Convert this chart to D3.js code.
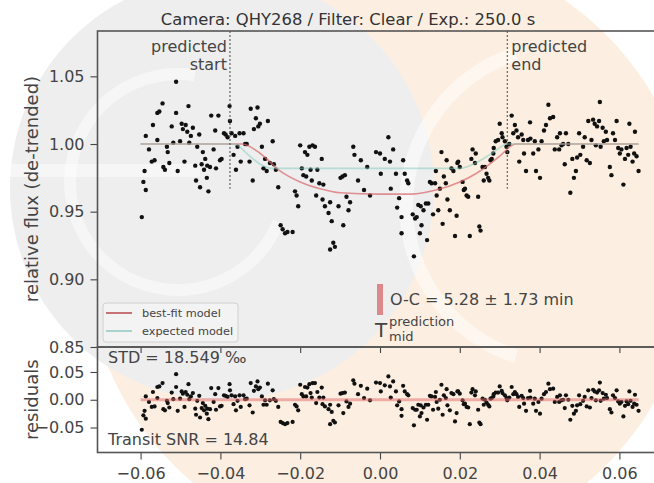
<!DOCTYPE html>
<html>
<head>
<meta charset="utf-8">
<script src="https://cdn.jsdelivr.net/npm/d3@7"></script>
<style>
  body { margin: 0; background: #fff; }
  svg { display: block; font-family: "DejaVu Sans", sans-serif; }
</style>
</head>
<body>
<script>
// observation times (days from predicted mid-transit)
const time = [
  -0.0597,-0.0593,-0.0590,-0.0587,-0.0587,-0.0579,-0.0572,-0.0569,-0.0565,-0.0558,
  -0.0558,-0.0553,-0.0545,-0.0543,-0.0539,-0.0534,-0.0532,-0.0528,-0.0522,-0.0518,
  -0.0511,-0.0511,-0.0507,-0.0501,-0.0497,-0.0494,-0.0490,-0.0487,-0.0483,-0.0480,
  -0.0478,-0.0474,-0.0469,-0.0463,-0.0461,-0.0458,-0.0453,-0.0451,-0.0447,-0.0444,
  -0.0441,-0.0438,-0.0434,-0.0433,-0.0430,-0.0426,-0.0423,-0.0417,-0.0413,-0.0411,
  -0.0405,-0.0401,-0.0397,-0.0391,-0.0387,-0.0382,-0.0377,-0.0376,-0.0372,-0.0367,
  -0.0363,-0.0361,-0.0357,-0.0352,-0.0349,-0.0342,-0.0338,-0.0334,-0.0327,-0.0324,
  -0.0319,-0.0316,-0.0311,-0.0307,-0.0305,-0.0301,-0.0296,-0.0292,-0.0288,-0.0284,
  -0.0281,-0.0276,-0.0269,-0.0266,-0.0261,-0.0255,-0.0249,-0.0244,-0.0238,-0.0232,
  -0.0219,-0.0213,-0.0209,-0.0205,-0.0200,-0.0196,-0.0192,-0.0188,-0.0185,-0.0182,
  -0.0177,-0.0174,-0.0171,-0.0169,-0.0163,-0.0160,-0.0157,-0.0152,-0.0146,-0.0144,
  -0.0142,-0.0138,-0.0129,-0.0125,-0.0125,-0.0121,-0.0117,-0.0113,-0.0104,-0.0099,
  -0.0094,-0.0092,-0.0088,-0.0084,-0.0079,-0.0075,-0.0067,-0.0064,-0.0055,-0.0048,
  -0.0040,-0.0032,-0.0025,-0.0010,0.0000,0.0002,0.0012,0.0021,0.0025,0.0027,
  0.0033,0.0040,0.0043,0.0048,0.0054,0.0054,0.0058,0.0062,0.0068,0.0071,
  0.0082,0.0085,0.0088,0.0092,0.0096,0.0100,0.0102,0.0104,0.0109,0.0115,
  0.0118,0.0121,0.0125,0.0129,0.0133,0.0138,0.0140,0.0142,0.0146,0.0150,
  0.0154,0.0157,0.0160,0.0165,0.0167,0.0169,0.0175,0.0179,0.0184,0.0188,
  0.0192,0.0194,0.0196,0.0200,0.0207,0.0210,0.0213,0.0217,0.0221,0.0225,
  0.0229,0.0232,0.0238,0.0240,0.0246,0.0249,0.0252,0.0257,0.0260,0.0263,
  0.0267,0.0271,0.0274,0.0277,0.0280,0.0284,0.0285,0.0290,0.0296,0.0300,
  0.0305,0.0307,0.0313,0.0317,0.0319,0.0324,0.0330,0.0334,0.0338,0.0342,
  0.0346,0.0349,0.0355,0.0359,0.0361,0.0366,0.0371,0.0376,0.0377,0.0384,
  0.0388,0.0391,0.0397,0.0401,0.0405,0.0411,0.0416,0.0422,0.0426,0.0434,
  0.0438,0.0444,0.0449,0.0451,0.0455,0.0459,0.0463,0.0466,0.0472,0.0477,
  0.0482,0.0486,0.0491,0.0494,0.0499,0.0502,0.0509,0.0513,0.0518,0.0522,
  0.0526,0.0530,0.0534,0.0538,0.0541,0.0544,0.0549,0.0551,0.0553,0.0558,
  0.0561,0.0566,0.0569,0.0576,0.0580,0.0584,0.0589,0.0593,0.0597,0.0601,
  0.0605,0.0610,0.0614,0.0618,0.0622,0.0625,0.0628,0.0633,0.0637,0.0639,
  0.0643,0.0648
];

// relative flux (de-trended)
const flux = [
  0.946,0.972,0.980,0.966,1.006,0.996,0.987,1.014,0.988,1.003,
  1.023,1.024,1.030,0.983,0.981,0.998,0.994,0.986,1.013,1.001,
  1.023,1.046,0.980,1.002,1.015,1.011,0.987,1.014,1.009,1.028,
  1.001,1.006,1.012,0.984,0.973,0.998,1.007,0.968,0.985,0.994,
  0.981,0.989,0.975,0.984,0.965,0.983,1.021,0.996,1.010,0.982,
  1.021,0.988,0.989,1.008,1.007,1.005,1.028,1.017,1.008,0.992,
  1.006,0.981,0.998,1.008,0.987,1.008,1.000,1.000,0.987,1.026,
  0.973,1.011,1.019,1.027,1.013,1.015,0.998,0.982,0.989,0.980,
  1.017,0.986,1.002,0.985,0.981,0.968,0.940,0.937,0.934,0.935,
  0.935,0.965,0.962,0.954,0.999,0.982,0.977,0.994,0.976,0.992,
  0.998,0.981,0.973,0.999,0.998,0.962,0.981,0.971,0.989,0.959,
  0.970,0.954,0.949,0.957,0.922,0.943,0.927,0.924,0.954,0.975,
  0.976,0.940,0.977,0.961,0.951,0.957,0.998,0.992,0.973,0.988,
  0.966,0.983,0.962,0.994,0.993,0.978,0.989,1.005,0.987,0.967,
  0.996,0.978,0.953,0.960,0.946,0.934,0.988,0.978,0.973,0.971,
  0.948,0.917,0.945,0.946,0.955,0.934,0.954,0.940,0.951,0.956,
  0.929,0.956,0.972,0.971,0.948,0.971,0.980,0.962,0.951,0.967,
  0.994,0.941,0.976,0.971,0.988,0.959,0.951,0.982,0.980,0.932,
  0.947,0.986,0.987,0.983,0.972,0.966,0.967,0.962,0.961,0.932,
  0.989,0.996,0.986,0.993,0.961,0.939,0.936,0.983,0.973,0.983,
  0.978,0.975,0.973,0.988,0.989,0.993,0.997,1.002,1.003,1.015,
  1.008,1.005,1.002,0.998,0.994,1.000,1.021,1.008,1.014,1.010,
  1.005,0.987,1.007,1.003,0.993,0.980,1.003,1.016,1.004,0.993,
  1.002,0.980,0.996,0.975,1.002,1.010,1.014,1.029,1.019,1.020,
  0.996,1.005,0.996,1.008,0.999,1.000,0.985,1.008,1.000,0.964,
  0.989,0.975,0.980,0.990,1.008,0.992,0.998,1.005,0.988,1.017,
  0.986,1.003,1.018,1.015,0.999,1.013,1.017,1.031,0.998,1.012,
  1.002,1.009,1.003,0.983,0.977,1.008,1.003,1.017,0.997,0.993,
  0.996,0.970,0.989,0.997,0.992,1.015,0.998,0.987,0.993,1.009,
  0.991,0.980
];

// residuals (observed - best-fit model)
const resid = [
  -0.054,-0.028,-0.020,-0.034,0.006,-0.004,-0.013,0.014,-0.012,0.003,
  0.023,0.024,0.030,-0.017,-0.019,-0.002,-0.006,-0.014,0.013,0.001,
  0.023,0.046,-0.020,0.002,0.015,0.011,-0.013,0.014,0.009,0.028,
  0.001,0.006,0.012,-0.016,-0.027,-0.002,0.007,-0.032,-0.015,-0.006,
  -0.019,-0.011,-0.025,-0.016,-0.035,-0.017,0.021,-0.004,0.010,-0.018,
  0.021,-0.012,-0.011,0.008,0.007,0.005,0.028,0.017,0.008,-0.008,
  0.006,-0.019,-0.002,0.008,-0.013,0.008,0.001,0.002,-0.010,0.030,
  -0.023,0.016,0.024,0.033,0.019,0.022,0.006,-0.009,-0.001,-0.009,
  0.029,-0.001,0.017,0.001,-0.002,-0.013,-0.040,-0.042,-0.044,-0.042,
  -0.040,-0.009,-0.012,-0.019,0.027,0.010,0.006,0.023,0.006,0.022,
  0.028,0.012,0.004,0.030,0.030,-0.006,0.014,0.004,0.022,-0.008,
  0.004,-0.012,-0.017,-0.009,-0.044,-0.022,-0.038,-0.041,-0.010,0.011,
  0.012,-0.024,0.013,-0.003,-0.013,-0.007,0.035,0.029,0.010,0.025,
  0.003,0.020,-0.001,0.031,0.030,0.015,0.026,0.042,0.024,0.004,
  0.033,0.015,-0.010,-0.003,-0.017,-0.029,0.025,0.015,0.010,0.008,
  -0.015,-0.046,-0.018,-0.018,-0.009,-0.030,-0.010,-0.024,-0.014,-0.009,
  -0.036,-0.009,0.007,0.006,-0.018,0.005,0.014,-0.004,-0.016,0.000,
  0.027,-0.027,0.008,0.003,0.019,-0.010,-0.019,0.012,0.010,-0.039,
  -0.024,0.015,0.015,0.011,-0.001,-0.008,-0.007,-0.013,-0.014,-0.044,
  0.013,0.019,0.008,0.015,-0.018,-0.041,-0.044,0.002,-0.009,0.000,
  -0.005,-0.009,-0.012,0.002,0.003,0.006,0.010,0.013,0.013,0.024,
  0.016,0.012,0.008,0.003,-0.001,0.004,0.023,0.010,0.014,0.010,
  0.005,-0.013,0.007,0.003,-0.007,-0.020,0.003,0.016,0.004,-0.007,
  0.002,-0.020,-0.004,-0.025,0.002,0.010,0.014,0.029,0.019,0.020,
  -0.004,0.005,-0.004,0.008,-0.001,0.000,-0.015,0.008,0.000,-0.036,
  -0.011,-0.025,-0.020,-0.010,0.008,-0.008,-0.002,0.005,-0.012,0.017,
  -0.014,0.003,0.018,0.015,-0.001,0.013,0.017,0.031,-0.002,0.012,
  0.002,0.009,0.003,-0.017,-0.023,0.008,0.003,0.017,-0.003,-0.007,
  -0.004,-0.030,-0.011,-0.003,-0.008,0.015,-0.002,-0.013,-0.007,0.009,
  -0.009,-0.020
];

// best-fit model curve
const fitTime = [-0.0600,-0.0345,-0.0300,-0.0250,-0.0200,-0.0150,-0.0100,0.0000,0.0080,0.0140,0.0200,0.0240,0.0270,0.0300,0.0340,0.0648];
const fitFlux = [1.000,1.000,0.993,0.980,0.972,0.967,0.964,0.963,0.963,0.966,0.972,0.978,0.984,0.991,1.000,1.000];

// expected model curve
const expTime = [-0.0600,-0.0365,-0.0330,-0.0300,-0.0270,0.0200,0.0240,0.0280,0.0320,0.0648];
const expFlux = [1.000,1.000,0.992,0.985,0.982,0.982,0.986,0.993,1.000,1.000];

// residual zero line
const zeroTime = [-0.0600, 0.0648];
const zeroVal = [0, 0];

// predicted ingress / egress
const predTimes = [-0.0376, 0.0319];
const predLabels = [["predicted", "start"], ["predicted", "end"]];
const predMid = 0.0;

const xTicks = [-0.06, -0.04, -0.02, 0.00, 0.02, 0.04, 0.06];
const yMainTicks = [0.85, 0.90, 0.95, 1.00, 1.05];
const yResTicks = [-0.05, 0.00, 0.05];

const legendLabels = ["best-fit model", "expected model"];
const titleText = "Camera: QHY268 / Filter: Clear / Exp.: 250.0 s";

const width = 654, height = 483;
const pLeft = 97.5, pRight = 662.5, pTop = 31, pSplit = 347, pBottom = 452.5;

const fitColor = "#d9666b", expColor = "#7ccabb";

const svg = d3.select("body").append("svg")
    .attr("width", width)
    .attr("height", height);

// faint logo watermark behind the figure
const wm = svg.append("g");
wm.append("circle").attr("cx", 390).attr("cy", 250).attr("r", 305).attr("fill", "#fcefe1");
wm.append("circle").attr("cx", 222).attr("cy", 188).attr("r", 212).attr("fill", "#eeeeee");
const arc = d3.arc();
wm.append("path")
    .attr("transform", "translate(178,182)")
    .attr("d", arc({innerRadius: 102, outerRadius: 114, startAngle: Math.PI * 0.62, endAngle: Math.PI * 2.05}))
    .attr("fill", "#fff").attr("opacity", 0.45);
wm.append("rect").attr("x", 0).attr("y", 164).attr("width", 200).attr("height", 13)
    .attr("fill", "#fff").attr("opacity", 0.45);
wm.append("path")
    .attr("transform", "translate(565,205)")
    .attr("d", arc({innerRadius: 152, outerRadius: 166, startAngle: Math.PI * 1.1, endAngle: Math.PI * 1.9}))
    .attr("fill", "#fff").attr("opacity", 0.5);

// scales
const x = d3.scaleLinear().domain([-0.0708, 0.0708]).range([pLeft, pRight]);
const yMain = d3.scaleLinear().domain([0.85, 1.0835]).range([pSplit, pTop]);
const yRes = d3.scaleLinear().domain([-0.095, 0.095]).range([pBottom, pSplit]);

const idx = d3.range(time.length);

svg.append("clipPath").attr("id", "clipMain")
  .append("rect").attr("x", pLeft).attr("y", pTop).attr("width", pRight - pLeft).attr("height", pSplit - pTop);
svg.append("clipPath").attr("id", "clipRes")
  .append("rect").attr("x", pLeft).attr("y", pSplit).attr("width", pRight - pLeft).attr("height", pBottom - pSplit);

// ---- main panel ----
const main = svg.append("g").attr("clip-path", "url(#clipMain)");

main.selectAll(".obs")
  .data(idx)
  .enter().append("circle")
    .attr("cx", i => x(time[i]))
    .attr("cy", i => yMain(flux[i]))
    .attr("r", 2.2)
    .attr("fill", "#111");

const lineMain = d3.line().curve(d3.curveMonotoneX)
    .x(d => x(d[0])).y(d => yMain(d[1]));

main.append("path")
    .datum(d3.zip(fitTime, fitFlux))
    .attr("d", lineMain)
    .attr("fill", "none").attr("stroke", fitColor).attr("stroke-width", 1.6).attr("opacity", 0.7);

main.append("path")
    .datum(d3.zip(expTime, expFlux))
    .attr("d", lineMain)
    .attr("fill", "none").attr("stroke", expColor).attr("stroke-width", 1.6).attr("opacity", 0.5);

// predicted start / end markers
main.selectAll(".pred")
  .data(predTimes)
  .enter().append("line")
    .attr("x1", d => x(d)).attr("x2", d => x(d))
    .attr("y1", pTop).attr("y2", yMain(0.967))
    .attr("stroke", "#555").attr("stroke-width", 1.1).attr("stroke-dasharray", "2,2");

predTimes.forEach((t, k) => {
  const tx = x(t) + (k === 0 ? -3 : 4);
  const t0 = svg.append("text")
      .attr("text-anchor", k === 0 ? "end" : "start")
      .attr("font-size", 16).attr("fill", "#444");
  t0.append("tspan").attr("x", tx).attr("y", 52).text(predLabels[k][0]);
  t0.append("tspan").attr("x", tx).attr("y", 70).text(predLabels[k][1]);
});

// O-C marker
svg.append("rect")
    .attr("x", x(predMid) - 3).attr("y", 284)
    .attr("width", 6).attr("height", 31)
    .attr("fill", "#d9777a").attr("opacity", 0.85);
svg.append("text")
    .attr("x", x(predMid) + 10).attr("y", 305)
    .attr("font-size", 16).attr("fill", "#444")
    .text("O-C = 5.28 \u00b1 1.73 min");
svg.append("text")
    .attr("x", x(predMid) - 5).attr("y", 337)
    .attr("font-size", 20).attr("fill", "#444")
    .text("T");
svg.append("text")
    .attr("x", x(predMid) + 9).attr("y", 326)
    .attr("font-size", 13).attr("fill", "#444")
    .text("prediction");
svg.append("text")
    .attr("x", x(predMid) + 9).attr("y", 341)
    .attr("font-size", 13).attr("fill", "#444")
    .text("mid");

// legend
const legend = svg.append("g").attr("transform", "translate(103,303)");
legend.append("rect")
    .attr("width", 135).attr("height", 39).attr("rx", 3)
    .attr("fill", "#f4f4f4").attr("fill-opacity", 0.8)
    .attr("stroke", "#d0d0d0");
["#b9474d", "#8ec9c0"].forEach((c, k) => {
  legend.append("line")
      .attr("x1", 3).attr("x2", 29)
      .attr("y1", 10 + k * 18).attr("y2", 10 + k * 18)
      .attr("stroke", c).attr("stroke-width", 1.5);
  legend.append("text")
      .attr("x", 39).attr("y", 14 + k * 18)
      .attr("font-size", 11.3).attr("fill", "#444")
      .text(legendLabels[k]);
});

// ---- residual panel ----
const res = svg.append("g").attr("clip-path", "url(#clipRes)");

res.selectAll(".res")
  .data(idx)
  .enter().append("circle")
    .attr("cx", i => x(time[i]))
    .attr("cy", i => yRes(resid[i]))
    .attr("r", 2.1)
    .attr("fill", "#111");

res.append("path")
    .datum(d3.zip(zeroTime, zeroVal))
    .attr("d", d3.line().x(d => x(d[0])).y(d => yRes(d[1])))
    .attr("fill", "none").attr("stroke", "#e06a6a").attr("stroke-width", 3).attr("opacity", 0.5);

svg.append("text").attr("x", 108).attr("y", 363)
    .attr("font-size", 16).attr("fill", "#444")
    .text("STD = 18.549 \u2030");
svg.append("text").attr("x", 108).attr("y", 445)
    .attr("font-size", 16).attr("fill", "#444")
    .text("Transit SNR = 14.84");

// ---- axes ----
const fmt = d3.format(".2f");

function styleAxis(g) {
  g.select(".domain").remove();
  g.selectAll(".tick line").attr("stroke", "#444").attr("stroke-width", 1.1);
  g.selectAll(".tick text").attr("fill", "#444").attr("font-size", 16)
      .attr("font-family", "DejaVu Sans, sans-serif");
}

svg.append("g")
    .attr("transform", `translate(${pLeft},0)`)
    .call(d3.axisLeft(yMain).tickValues(yMainTicks).tickFormat(fmt).tickSize(7).tickPadding(6))
    .call(styleAxis);

svg.append("g")
    .attr("transform", `translate(${pLeft},0)`)
    .call(d3.axisLeft(yRes).tickValues(yResTicks).tickFormat(fmt).tickSize(7).tickPadding(6))
    .call(styleAxis);

svg.append("g")
    .attr("transform", `translate(0,${pSplit})`)
    .call(d3.axisBottom(x).tickValues(xTicks).tickFormat("").tickSize(6))
    .call(styleAxis);

svg.append("g")
    .attr("transform", `translate(0,${pBottom})`)
    .call(d3.axisBottom(x).tickValues(xTicks).tickFormat(fmt).tickSize(7).tickPadding(8))
    .call(styleAxis);

// frames
svg.append("rect")
    .attr("x", pLeft).attr("y", pTop).attr("width", pRight - pLeft).attr("height", pSplit - pTop)
    .attr("fill", "none").attr("stroke", "#555").attr("stroke-width", 1.6);
svg.append("rect")
    .attr("x", pLeft).attr("y", pSplit).attr("width", pRight - pLeft).attr("height", pBottom - pSplit)
    .attr("fill", "none").attr("stroke", "#555").attr("stroke-width", 1.6);

// labels and title
svg.append("text")
    .attr("transform", `translate(38,${(pTop + pSplit) / 2}) rotate(-90)`)
    .attr("text-anchor", "middle")
    .attr("font-size", 18).attr("fill", "#444")
    .text("relative flux (de-trended)");
svg.append("text")
    .attr("transform", `translate(38,${(pSplit + pBottom) / 2}) rotate(-90)`)
    .attr("text-anchor", "middle")
    .attr("font-size", 18).attr("fill", "#444")
    .text("residuals");
svg.append("text")
    .attr("x", 348).attr("y", 25)
    .attr("text-anchor", "middle")
    .attr("font-size", 16.4).attr("fill", "#333")
    .text(titleText);
</script>
</body>
</html>
